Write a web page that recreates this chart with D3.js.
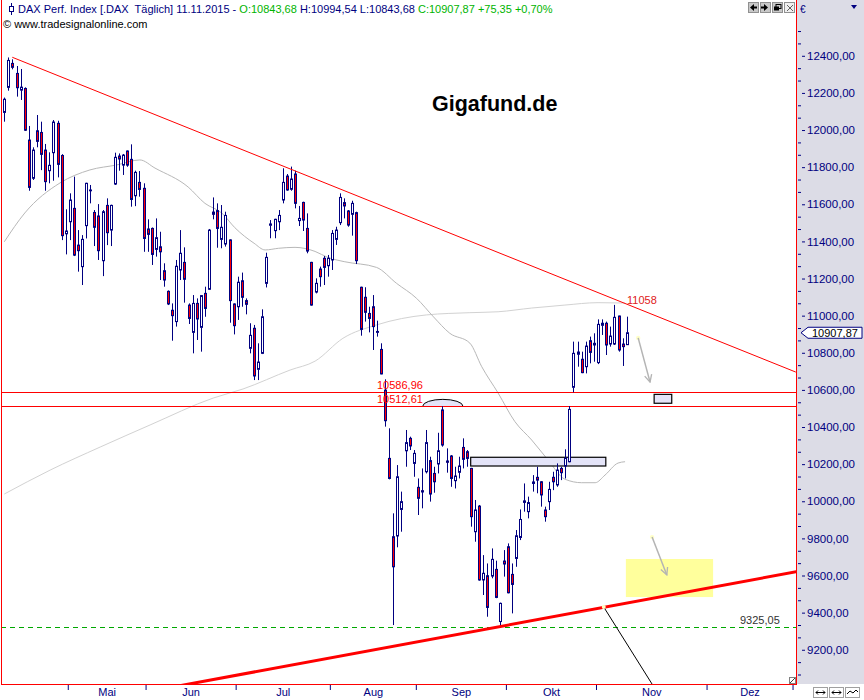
<!DOCTYPE html>
<html><head><meta charset="utf-8">
<script src="https://cdn.jsdelivr.net/npm/d3@7"></script>
<style>
html,body{margin:0;padding:0;background:#fff;}
svg{display:block;font-family:"Liberation Sans",Arial,sans-serif;}
</style></head><body>
<svg id="c" width="864" height="700"></svg>
<script>
// ---------- DATA ----------
const opens = [12095,12230,12359,12305,12215,12224,11946,11740,11996,11987,
11892,11781,11878,12036,11863,11441,11506,11578,11380,11264,
11485,11673,11556,11537,11296,11594,11461,11709,11860,11811,
11887,11842,11646,11718,11686,11467,11470,11357,11371,11242,
11131,11029,10968,11246,11287,11057,10910,11066,10937,11120,
11142,11558,11566,11411,11386,11408,11063,11048,11188,11081,
10824,10932,10711,10797,11174,11487,11458,11506,11623,11752,
11681,11763,11512,11610,11470,11287,11127,11251,11309,11269,
11300,11411,11501,11609,11564,11546,11555,11153,11099,11012,
11048,10910,10818,10599,10231,9809,9813,9956,10272,10339,
10204,10075,10057,10159,10219,10150,10201,10492,10217,10244,
10111,10156,10290,10267,10177,9836,9974,9576,9599,9597,
9633,9352,9678,9755,9606,9692,9805,10002,9944,10104,
10129,10105,9953,9998,10129,10088,10177,10190,10213,10614,
10792,10765,10725,10865,10842,10747,10948,10959,10847,10847,
10998,10847,10843.68];
const highs = [12175,12391,12381,12345,12329,12230,12022,11907,12081,12045,
11925,11880,12054,12050,11870,11573,11659,11749,11461,11434,
11716,11704,11569,11601,11569,11632,11598,11878,11874,11871,
11890,11923,11781,11779,11713,11519,11475,11524,11452,11282,
11136,11066,11300,11461,11368,11066,11111,11093,11111,11156,
11467,11637,11605,11596,11560,11411,11066,11210,11232,11093,
10959,10950,10851,11034,11339,11515,11522,11569,11794,11763,
11803,11781,11591,11614,11551,11290,11201,11264,11321,11327,
11461,11479,11659,11632,11569,11619,11560,11156,11153,11048,
11111,10973,10851,10657,10393,9935,10195,10052,10384,10348,
10276,10123,10177,10384,10240,10186,10369,10512,10285,10249,
10186,10240,10339,10276,10180,10007,9980,9710,9665,9746,
9680,9454,9737,9773,9665,9845,9956,10096,10025,10141,
10186,10108,9971,10105,10159,10204,10186,10280,10513,10860,
10860,10806,10860,10887,10905,10980,10980,10968,10941,11058,
11000,10878,10994.54];
const lows = [12045,12212,12327,12180,12162,11995,11673,11731,11907,11784,
11673,11713,11727,11745,11407,11330,11407,11321,11237,11165,
11416,11605,11375,11300,11213,11380,11375,11704,11781,11758,
11802,11587,11590,11641,11344,11344,11273,11318,11192,11156,
11057,10865,10941,11192,11070,10955,10797,10869,10806,10994,
11140,11519,11366,11363,11372,10962,10899,10977,11048,11007,
10797,10653,10653,10793,11152,11417,11417,11461,11605,11673,
11673,11578,11483,11456,11336,11054,11120,11156,11165,11210,
11246,11381,11488,11524,11479,11431,11278,10892,10968,10910,
10815,10887,10684,10402,10118,9333,9752,9836,10186,10276,
10132,9926,9962,10150,9998,10046,10150,10294,10154,10078,
10069,10123,10177,10186,9863,9782,9572,9495,9378,9585,
9478,9325,9594,9504,9396,9647,9791,9944,9908,10052,
10043,9971,9890,9953,10060,10078,10114,10123,10210,10587,
10725,10690,10689,10743,10752,10739,10896,10788,10833,10842,
10806,10729,10843.68];
const closes = [12166,12375,12338,12228,12231,11999,11691,11892,11939,11869,
11722,11810,12043,11815,11431,11456,11623,11326,11350,11411,
11713,11677,11476,11350,11560,11447,11594,11853,11844,11865,
11811,11626,11772,11680,11416,11438,11330,11420,11344,11192,
11063,11000,11266,11336,11196,10985,11066,10982,11108,11039,
11461,11546,11470,11476,11540,11081,10946,11180,11099,11061,
10894,10675,10750,10994,11314,11494,11519,11540,11718,11677,
11736,11605,11524,11515,11348,11057,11174,11210,11260,11309,
11443,11461,11637,11591,11488,11605,11296,10926,11018,10985,
10941,10915,10686,10434,10123,9647,10132,9998,10316,10298,
10258,10016,10050,10316,10039,10105,10272,10303,10210,10123,
10136,10190,10226,10231,9917,9953,9576,9612,9428,9687,
9482,9450,9662,9507,9552,9814,9902,9994,9993,10096,
10114,10034,9917,10064,10105,10168,10154,10231,10495,10797,
10804,10693,10836,10802,10851,10953,10959,10842,10890,10991,
10815,10833,10907.87];

// moving averages sampled at bar index (index, value)
const maShort = [[0,11398],[5,11553],[13.6,11715],[20.9,11785],[27.5,11812],[33.1,11839],[36.8,11795],
 [44.9,11693],[49,11605],[53.1,11553],[56.3,11474],[61,11390],[63.7,11354],[67,11363],[71,11368],[75.9,11346],
 [79,11314],[83,11291],[90.9,11260],[95.8,11174],[100.7,11093],[104.8,10994],[108.8,10905],[113.7,10852],
 [116.6,10725],[120.6,10583],[124.7,10429],[128.8,10330],[132.8,10222],[136.9,10119],[141,10100],
 [144.3,10100],[146.7,10141],[149.9,10206],[151.6,10213]];
const maLong = [[0,10039],[11.2,10168],[23.4,10292],[35.6,10411],[51,10556],[58.3,10605],[69.8,10707],
 [75.9,10755],[82.7,10878],[90.9,10950],[103.1,11004],[113.7,11016],[120.6,11021],[128.8,11041],
 [136.9,11057],[145,11070],[151.6,11068]];

const downTrend = [[1.95,12392],[193.3,10696]];
const upTrend = [[121,9325.05],[193.3,9620]];
const levels = [10586.96, 10512.61];
const supportLevel = 9325.05;
const peakLabel = 11058;
const monthBounds = [15.5,34.5,56.5,79.5,100.5,122.5,144.5,171.5,192.5];
const monthNames = ["Mai","Jun","Jul","Aug","Sep","Okt","Nov","Dez"];
const yTicks = d3.range(9200, 12401, 200);
const lastPrice = 10907.87;
const header = {name:"DAX Perf. Index [.DAX  Täglich] 11.11.2015 - ", o:"O:10843,68", hl:" H:10994,54 L:10843,68 ", c:"C:10907,87 +75,35 +0,70%"};
const boxGap = [[113.9,10237],[146.9,10190]];
const boxSmall = [[158.7,10576],[163,10528]];
const boxYellow = [[151.8,9689],[173.1,9484]];
const cup = {i0:102.2, i1:112, base:10512.61, top:10549};
const arrows = [[[154.8,10880],[157.7,10642]],[[158.2,9807],[161.8,9603]]];
const projLine = [[146.4,9430],[158.2,9015]];

// ---------- CHART ----------
const W=864,H=700, PL=1, PR=796, PB=684;
const navy="#000080", red="#ff0000";
const loc = d3.formatLocale({decimal:",",thousands:".",grouping:[3],currency:["","€"]});
const f2 = loc.format(".2f");
const x = d3.scaleLinear().domain([0,152]).range([4.3,626.7]);
const y = d3.scaleLinear().domain([9015,12609]).range([684.1,17]);
const svg = d3.select("#c");
const defs = svg.append("defs");
defs.append("clipPath").attr("id","clip").append("rect").attr("x",2).attr("y",0).attr("width",PR-2).attr("height",PB);
defs.append("marker").attr("id","ah").attr("viewBox","0 0 10 10").attr("refX",9).attr("refY",5)
  .attr("markerWidth",9).attr("markerHeight",9).attr("markerUnits","userSpaceOnUse").attr("orient","auto")
  .append("path").attr("d","M1,1 L9,5 L1,9").attr("fill","none").attr("stroke","#b4b4b4").attr("stroke-width",1.5);

svg.append("rect").attr("width",W).attr("height",H).attr("fill","#fff");
svg.append("rect").attr("x",PR+1).attr("y",0).attr("width",W-PR-1).attr("height",PB).attr("fill","#dcdce6");

const plot = svg.append("g").attr("clip-path","url(#clip)");
const line = d3.line().x(d=>x(d[0])).y(d=>y(d[1]));
const mline = d3.line().x(d=>x(d[0])).y(d=>y(d[1])).curve(d3.curveMonotoneX);

plot.append("path").attr("d",mline(maLong)).attr("fill","none").attr("stroke","#d2d2d2").attr("stroke-width",1);
plot.append("path").attr("d",mline(maShort)).attr("fill","none").attr("stroke","#b8b8b8").attr("stroke-width",1);

// boxes
function box(b, fill, stroke){
  const r = plot.append("rect").attr("x",x(b[0][0])).attr("y",y(b[0][1]))
    .attr("width",x(b[1][0])-x(b[0][0])).attr("height",y(b[1][1])-y(b[0][1])).attr("fill",fill);
  if(stroke) r.attr("stroke",stroke).attr("stroke-width",1.2);
}
box(boxYellow,"#ffff9c",null);
box(boxGap,"#e4e4f8","#000");
box(boxSmall,"#e4e4f8","#000");

// cup arc
{
  const x0=x(cup.i0), x1=x(cup.i1), yb=y(cup.base), yt=y(cup.top);
  const rx=(x1-x0)/2, ry=yb-yt;
  plot.append("path").attr("d",`M${x0},${yb} A${rx},${ry} 0 0 1 ${x1},${yb} Z`)
    .attr("fill","#e4e4f8").attr("stroke","none");
  plot.append("path").attr("d",`M${x0},${yb} A${rx},${ry} 0 0 1 ${x1},${yb}`)
    .attr("fill","none").attr("stroke","#000").attr("stroke-width",1);
}

// horizontal levels
levels.forEach(v=>{
  plot.append("line").attr("x1",PL).attr("x2",PR).attr("y1",Math.round(y(v))+0.5).attr("y2",Math.round(y(v))+0.5)
    .attr("stroke",red).attr("stroke-width",1);
});
plot.append("line").attr("x1",PL).attr("x2",PR).attr("y1",Math.round(y(supportLevel))+0.5).attr("y2",Math.round(y(supportLevel))+0.5)
  .attr("stroke","#00a800").attr("stroke-width",1).attr("stroke-dasharray","5,4").attr("shape-rendering","crispEdges");

// candles
const candles = plot.append("g");
closes.forEach((c,i)=>{
  const cx = Math.round(x(i))+0.5;
  const o=opens[i], h=highs[i], l=lows[i];
  candles.append("line").attr("x1",cx).attr("x2",cx).attr("y1",y(h)).attr("y2",y(l))
    .attr("stroke",navy).attr("stroke-width",1);
  const top=y(Math.max(o,c)), bot=y(Math.min(o,c));
  candles.append("rect").attr("x",cx-1).attr("y",top).attr("width",2).attr("height",Math.max(bot-top,0.8))
    .attr("fill", c>=o ? "#ffffff" : red).attr("stroke",navy).attr("stroke-width",1);
});

// trend lines
function extLine(p, x0, x1){
  const s=(p[1][1]-p[0][1])/(p[1][0]-p[0][0]);
  return [[x0, p[0][1]+(x0-p[0][0])*s],[x1, p[0][1]+(x1-p[0][0])*s]];
}
plot.append("path").attr("d",line(downTrend)).attr("stroke",red).attr("stroke-width",1).attr("fill","none");
plot.append("path").attr("d",line(extLine(upTrend,40,195))).attr("stroke",red).attr("stroke-width",3).attr("fill","none");

// projection line & arrows
plot.append("path").attr("d",line(projLine)).attr("stroke","#000").attr("stroke-width",1).attr("fill","none");
plot.append("circle").attr("cx",x(projLine[0][0])).attr("cy",y(projLine[0][1])).attr("r",2).attr("fill","#ffffc0");
arrows.forEach((a,k)=>{
  plot.append("circle").attr("cx",x(a[0][0])).attr("cy",y(a[0][1])).attr("r",2.2).attr("fill","#ffffc8");
  plot.append("path").attr("d",line(a)).attr("stroke","#b4b4b4").attr("stroke-width",1.5).attr("fill","none")
    .attr("marker-end","url(#ah)");
});

// texts in plot
const t = svg.append("g").attr("font-size",11);
t.append("text").attr("x",377).attr("y",Math.round(y(levels[0]))-3).attr("fill",red).text(f2(levels[0]));
t.append("text").attr("x",377).attr("y",Math.round(y(levels[1]))-3).attr("fill",red).text(f2(levels[1]));
t.append("text").attr("x",627).attr("y",y(peakLabel)-1).attr("fill","#e02020").text(String(peakLabel));
t.append("text").attr("x",740).attr("y",Math.round(y(supportLevel))-3).attr("fill","#333").text(f2(supportLevel));
svg.append("text").attr("x",432).attr("y",111).attr("font-size",21.5).attr("font-weight","bold").attr("fill","#000").text("Gigafund.de");

// plot borders
svg.append("line").attr("x1",1.5).attr("x2",1.5).attr("y1",0).attr("y2",PB+1).attr("stroke",red);
svg.append("line").attr("x1",PR+0.5).attr("x2",PR+0.5).attr("y1",0).attr("y2",PB+1).attr("stroke",red);
svg.append("line").attr("x1",1).attr("x2",PR+1).attr("y1",PB+0.5).attr("y2",PB+0.5).attr("stroke",red);

// y axis
const yAxis = d3.axisRight(y).tickValues(yTicks).tickSize(3).tickPadding(2).tickFormat(d=>f2(d));
const ga = svg.append("g").attr("transform",`translate(${PR+6},0)`).call(yAxis);
ga.select(".domain").remove();
ga.selectAll("line").attr("stroke",navy);
ga.selectAll("text").attr("fill",navy).attr("font-size",11.5).attr("font-family","'Liberation Sans',Arial,sans-serif");
const minor = d3.range(9000, 12601, 200/3).filter(v=>Math.abs((v/200)-Math.round(v/200))>0.01);
const gm = svg.append("g").attr("transform",`translate(${PR+2},0)`)
  .call(d3.axisRight(y).tickValues(minor.filter(v=>y(v)>20 && y(v)<683)).tickSize(3).tickFormat(""));
gm.select(".domain").remove();
gm.selectAll("line").attr("stroke",navy);

// x axis
const gx = svg.append("g").attr("transform",`translate(0,${PB+1})`)
  .call(d3.axisBottom(x).tickValues(monthBounds.filter(v=>x(v)<PR)).tickSize(5).tickFormat(""));
gx.select(".domain").remove();
gx.selectAll("line").attr("stroke",navy);
const mids = monthNames.map((m,k)=>(monthBounds[k]+monthBounds[k+1])/2);
const gl = svg.append("g").attr("transform",`translate(0,${PB+1})`)
  .call(d3.axisBottom(x).tickValues(mids).tickSize(0).tickPadding(3).tickFormat((d,k)=>monthNames[k]));
gl.select(".domain").remove();
gl.selectAll("text").attr("fill",navy).attr("font-size",11).attr("font-family","'Liberation Sans',Arial,sans-serif");

// last price marker
{
  const yy = y(lastPrice);
  svg.append("path").attr("d",`M${PR+5},${yy} L${PR+12},${yy-5.5} L862,${yy-5.5} L862,${yy+5.5} L${PR+12},${yy+5.5} Z`)
    .attr("fill","#fff").attr("stroke",navy).attr("stroke-width",1);
  svg.append("text").attr("x",PR+16).attr("y",yy+4).attr("font-size",11).attr("fill","#000").text(f2(lastPrice));
}

// header
const hdr = svg.append("text").attr("x",18).attr("y",13).attr("font-size",11).style("white-space","pre");
hdr.append("tspan").attr("fill",navy).text(header.name);
hdr.append("tspan").attr("fill","#00b400").text(header.o);
hdr.append("tspan").attr("fill",navy).text(header.hl);
hdr.append("tspan").attr("fill","#00b400").text(header.c);
svg.append("line").attr("x1",11.5).attr("x2",11.5).attr("y1",3).attr("y2",15).attr("stroke",navy);
svg.append("rect").attr("x",9.5).attr("y",6.5).attr("width",4).attr("height",5).attr("fill","#fff").attr("stroke",navy);
svg.append("text").attr("x",3).attr("y",28).attr("font-size",11).attr("fill","#000").text("© www.tradesignalonline.com");

// toolbar buttons
const btn = svg.append("g");
[748,760,772,784].forEach((bx,k)=>{
  btn.append("rect").attr("x",bx+0.5).attr("y",2.5).attr("width",10).attr("height",10)
    .attr("fill",k<3?"#c8c8c8":"#f0f0f0").attr("stroke","#909090");
});
btn.append("path").attr("d","M750,7.5 L754,4 L754,11 Z M754,6.5 h3 v2 h-3 Z").attr("fill","#000");
btn.append("path").attr("d","M768,7.5 L764,4 L764,11 Z M764,6.5 h-3 v2 h3 Z").attr("fill","#000");
btn.append("rect").attr("x",776).attr("y",4.5).attr("width",5).attr("height",4).attr("fill","none").attr("stroke","#000");
btn.append("rect").attr("x",774).attr("y",6.5).attr("width",5).attr("height",4).attr("fill","#000");
btn.append("path").attr("d","M787,5 L793,11 M793,5 L787,11").attr("stroke","#606060").attr("stroke-width",1);

// axis panel decorations
svg.append("text").attr("x",800).attr("y",13).attr("font-size",10).attr("fill",navy).text("€");
svg.append("path").attr("d","M851,5 L857,5 L854,9 Z").attr("fill",navy);
svg.append("rect").attr("x",789.5).attr("y",677.5).attr("width",6).attr("height",6).attr("fill","#fff").attr("stroke","#808080");
svg.append("path").attr("d","M790,683 L795,678").attr("stroke","#404040");
[813,829,845].forEach((bx,k)=>{
  svg.append("rect").attr("x",bx+0.5).attr("y",687.5).attr("width",14).attr("height",10).attr("fill","#fff").attr("stroke","#a0a0a0");
  if(k<2) svg.append("path").attr("d",`M${bx+3},692.5 h9 M${bx+3},692.5 l2,-2 M${bx+3},692.5 l2,2 M${bx+12},692.5 l-2,-2 M${bx+12},692.5 l-2,2`).attr("stroke","#000").attr("fill","none");
  else svg.append("path").attr("d",`M${bx+2},694 l3,-3 l3,2 l3,-3 l2,2`).attr("stroke","#000").attr("fill","none");
});
</script>
</body></html>
